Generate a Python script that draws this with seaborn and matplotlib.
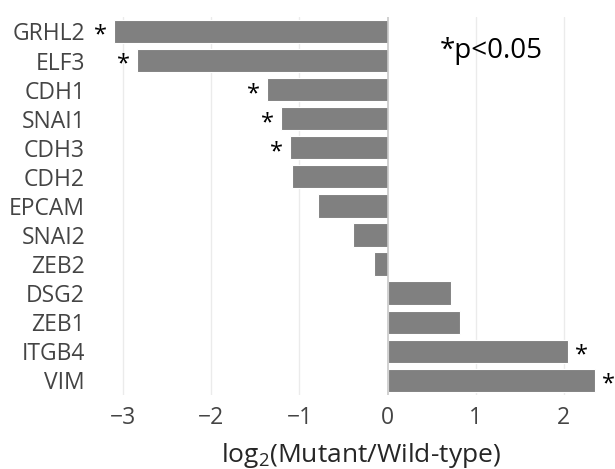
import pandas as pd
import matplotlib.pyplot as plt
import seaborn as sns

genes = ['GRHL2', 'ELF3', 'CDH1', 'SNAI1', 'CDH3', 'CDH2', 'EPCAM',
         'SNAI2', 'ZEB2', 'DSG2', 'ZEB1', 'ITGB4', 'VIM']
log2_fc = [-3.11, -2.85, -1.37, -1.21, -1.11, -1.08, -0.79,
           -0.39, -0.15, 0.72, 0.82, 2.05, 2.36]
significant = [True, True, True, True, True, False, False,
               False, False, False, False, True, True]

sns.set_style('white')
plt.rcParams['font.family'] = ['Open Sans', 'DejaVu Sans']
plt.rcParams['mathtext.fontset'] = 'custom'
plt.rcParams['mathtext.rm'] = 'Open Sans'
plt.rcParams['mathtext.it'] = 'Open Sans'

df = pd.DataFrame({'gene': genes, 'log2fc': log2_fc, 'sig': significant})

fig = plt.figure(figsize=(6.15, 4.69), dpi=100)
ax = fig.add_axes([0.179, 0.158, 0.795, 0.806])

# grid first so bars sit on top
for x in [-3, -2, -1, 1, 2]:
    ax.axvline(x, color='#ebebeb', lw=1, zorder=0)

sns.barplot(data=df, x='log2fc', y='gene', orient='h', color='#808080',
            saturation=1, width=0.8, edgecolor='white', linewidth=0.8, ax=ax)
ax.axvline(0, color='#c8c8c8', lw=1.2, zorder=3)

# asterisks for significant genes
for i, row in df.iterrows():
    if row['sig']:
        off = 0.15 if row['log2fc'] > 0 else -0.15
        ax.text(row['log2fc'] + off, i + 0.15, '*', ha='center', va='center',
                fontsize=17, color='black', clip_on=False)

ax.text(0.675, 0.91, '*p<0.05', transform=ax.transAxes, fontsize=20,
        ha='left', va='center', color='black')

ax.set_xlim(-3.15, 2.4)
ax.set_xticks([-3, -2, -1, 0, 1, 2])
ax.set_xticklabels(['\u22123', '\u22122', '\u22121', '0', '1', '2'])
ax.set_xlabel('log$_2$(Mutant/Wild-type)', fontsize=19)
ax.xaxis.set_label_coords(0.513, -0.121)
ax.set_ylabel('')
ax.tick_params(axis='both', labelsize=16.5, colors='#444444', length=0)
ax.tick_params(axis='y', pad=18)
ax.tick_params(axis='x', pad=8)
sns.despine(ax=ax, left=True, bottom=True)

plt.savefig('out.png', dpi=100)
plt.close()
